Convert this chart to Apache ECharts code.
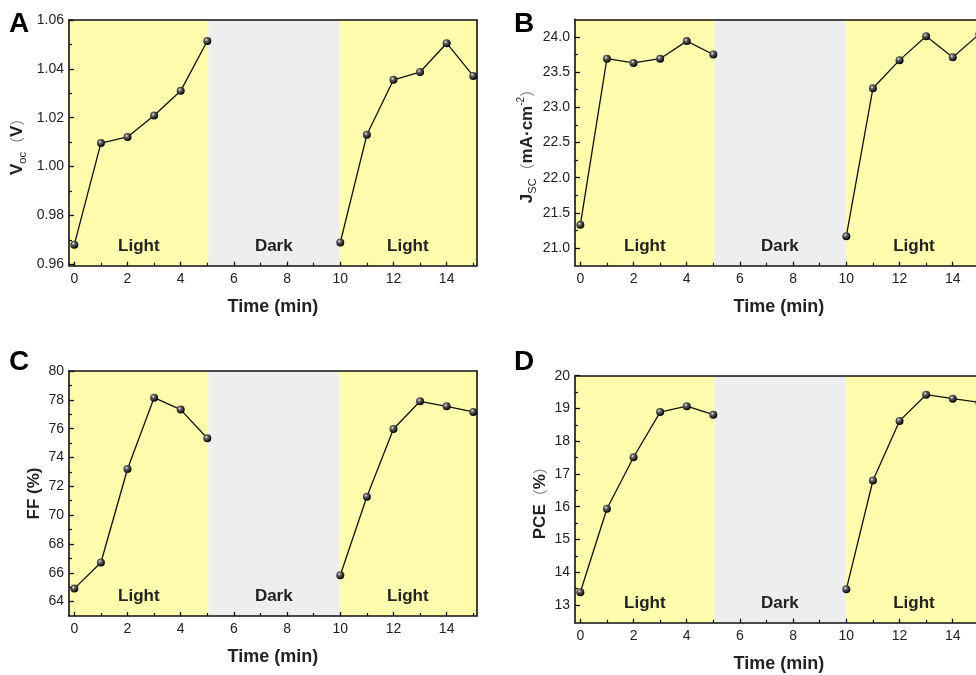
<!DOCTYPE html>
<html><head><meta charset="utf-8">
<script src="https://cdn.jsdelivr.net/npm/echarts@6/dist/echarts.min.js"></script>
<style>html,body{margin:0;padding:0;background:#fff}#c{width:976px;height:675px}</style>
</head><body><div id="c"></div>
<script>
// ---- data ----
const time = [0, 1, 2, 3, 4, 5, 10, 11, 12, 13, 14, 15];
const voc = [0.968, 1.0096, 1.0121, 1.0209, 1.031, 1.0514, 0.9689, 1.013, 1.0355, 1.0387, 1.0505, 1.0371];
const jsc = [21.33, 23.69, 23.63, 23.69, 23.94, 23.75, 21.17, 23.27, 23.67, 24.01, 23.71, 24.04];
const ff = [64.90, 66.71, 73.20, 78.15, 77.32, 75.33, 65.83, 71.28, 75.98, 77.90, 77.55, 77.16];
const pce = [13.39, 15.94, 17.51, 18.89, 19.07, 18.81, 13.48, 16.80, 18.62, 19.42, 19.30, 19.19];
const xTickLabels = [0, 2, 4, 6, 8, 10, 12, 14];
const xMinorTicks = [1, 3, 5, 7, 9, 11, 13, 15];
const vocTicks = [0.96, 0.98, 1.00, 1.02, 1.04, 1.06];
const vocMinor = [0.97, 0.99, 1.01, 1.03, 1.05];
const jscTicks = [21.0, 21.5, 22.0, 22.5, 23.0, 23.5, 24.0];
const jscMinor = [21.25, 21.75, 22.25, 22.75, 23.25, 23.75];
const ffTicks = [64, 66, 68, 70, 72, 74, 76, 78, 80];
const ffMinor = [65, 67, 69, 71, 73, 75, 77, 79];
const pceTicks = [13, 14, 15, 16, 17, 18, 19, 20];
const pceMinor = [13.5, 14.5, 15.5, 16.5, 17.5, 18.5, 19.5];
const periods = [
  {label: 'Light', from: -0.2, to: 5.05, kind: 'light'},
  {label: 'Dark', from: 5.05, to: 9.95, kind: 'dark'},
  {label: 'Light', from: 9.95, to: 15.13, kind: 'light'}
];
const xLabelName = 'Time (min)';

// ---- styles ----
const FONT = 'Liberation Sans, Arial, sans-serif';
const YELLOW = '#FFFCAE';
const GRAY = '#EEEEEE';
const INK = '#111';
const XMIN = -0.2, XMAX = 15.13;

const panels = [
  {grid: {left: 69, top: 20, width: 407.7, height: 245.7}, y: voc, ymin: 0.9594, ymax: 1.06, ticks: vocTicks, minor: vocMinor, fmt: v => v.toFixed(2),
   name: '{b|V}{s|oc}{p|（}{b|V}{p|）}', nameGap: 41},
  {grid: {left: 575, top: 19.3, width: 407.8, height: 246.4}, y: jsc, ymin: 20.75, ymax: 24.25, ticks: jscTicks, minor: jscMinor, fmt: v => v.toFixed(1),
   name: '{b|J}{s|SC}{p|（}{b|mA·cm}{u|-2}{p|）}', nameGap: 37},
  {grid: {left: 69, top: 371, width: 407.7, height: 245}, y: ff, ymin: 63, ymax: 80, ticks: ffTicks, minor: ffMinor, fmt: v => String(v),
   name: '{b|FF (%)}', nameGap: 24},
  {grid: {left: 575, top: 375.7, width: 407.8, height: 247}, y: pce, ymin: 12.46, ymax: 20, ticks: pceTicks, minor: pceMinor, fmt: v => String(v),
   name: '{b|PCE}{p|（}{b|%}{p|）}', nameGap: 24}
];

const richName = {
  b: {fontFamily: FONT, fontSize: 17, fontWeight: 'bold', color: '#222', lineHeight: 22},
  s: {fontFamily: FONT, fontSize: 11, color: '#222', verticalAlign: 'bottom', lineHeight: 12},
  u: {fontFamily: FONT, fontSize: 10, color: '#222', verticalAlign: 'top', lineHeight: 10},
  p: {fontFamily: 'Noto Sans CJK SC', fontSize: 15, color: '#777', lineHeight: 22}
};

const sphere = {
  type: 'radial', x: 0.38, y: 0.35, r: 0.65,
  colorStops: [{offset: 0, color: '#f4f4f4'}, {offset: 0.3, color: '#666'}, {offset: 1, color: '#000'}]
};

const grids = [], xAxes = [], yAxes = [], series = [];
panels.forEach((p, gi) => {
  grids.push(Object.assign({outerBoundsMode: 'none', containLabel: false}, p.grid));
  const xi = xAxes.length, yi = yAxes.length;
  // main x
  xAxes.push({gridIndex: gi, type: 'value', position: 'bottom', min: XMIN, max: XMAX, z: 5,
    axisLine: {show: true, onZero: false, lineStyle: {color: INK, width: 1.6}},
    axisTick: {show: true, inside: true, length: 4, customValues: xTickLabels, lineStyle: {color: INK, width: 1.3}},
    axisLabel: {show: true, customValues: xTickLabels, color: '#222', fontSize: 14, fontFamily: FONT, margin: 6},
    splitLine: {show: false},
    name: xLabelName, nameLocation: 'middle', nameGap: 32,
    nameTextStyle: {fontFamily: FONT, fontSize: 18, fontWeight: 'bold', color: '#222'}});
  // minor x
  xAxes.push({gridIndex: gi, type: 'value', position: 'bottom', min: XMIN, max: XMAX, z: 5,
    axisLine: {show: false, onZero: false}, axisLabel: {show: false}, splitLine: {show: false},
    axisTick: {show: true, inside: true, length: 3, customValues: xMinorTicks, lineStyle: {color: INK, width: 1.2}}});
  // top frame
  xAxes.push({gridIndex: gi, type: 'value', position: 'top', min: XMIN, max: XMAX, z: 5,
    axisLine: {show: true, onZero: false, lineStyle: {color: INK, width: 1.6}},
    axisTick: {show: false}, axisLabel: {show: false}, splitLine: {show: false}});
  // main y
  yAxes.push({gridIndex: gi, type: 'value', position: 'left', min: p.ymin, max: p.ymax, z: 5,
    axisLine: {show: true, onZero: false, lineStyle: {color: INK, width: 1.6}},
    axisTick: {show: true, inside: true, length: 5, customValues: p.ticks, lineStyle: {color: INK, width: 1.3}},
    axisLabel: {show: true, customValues: p.ticks, formatter: p.fmt, color: '#222', fontSize: 14, fontFamily: FONT, margin: 5},
    splitLine: {show: false},
    name: p.name, nameLocation: 'middle', nameRotate: 90, nameGap: p.nameGap,
    nameTextStyle: {rich: richName}});
  // minor y
  yAxes.push({gridIndex: gi, type: 'value', position: 'left', min: p.ymin, max: p.ymax, z: 5,
    axisLine: {show: false, onZero: false}, axisLabel: {show: false}, splitLine: {show: false},
    axisTick: {show: true, inside: true, length: 3, customValues: p.minor, lineStyle: {color: INK, width: 1.2}}});
  // right frame
  yAxes.push({gridIndex: gi, type: 'value', position: 'right', min: p.ymin, max: p.ymax, z: 5,
    axisLine: {show: true, onZero: false, lineStyle: {color: INK, width: 1.6}},
    axisTick: {show: false}, axisLabel: {show: false}, splitLine: {show: false}});

  const seg1 = [], seg2 = [];
  time.forEach((t, i) => (t <= 5 ? seg1 : seg2).push([t, p.y[i]]));
  [seg1, seg2].forEach((seg, si) => {
    const s = {
      type: 'line', xAxisIndex: xi, yAxisIndex: yi, data: seg, z: 3,
      symbol: 'circle', symbolSize: 8, showAllSymbol: true,
      lineStyle: {color: '#111', width: 1.3},
      itemStyle: {color: sphere, borderWidth: 0},
      emphasis: {disabled: true}, animation: false
    };
    if (si === 0) {
      s.markArea = {
        silent: true, z: 1,
        data: periods.map(pr => [
          {xAxis: pr.from, itemStyle: {color: pr.kind === 'light' ? YELLOW : GRAY},
           label: {show: true, position: 'insideBottom', distance: 11, formatter: pr.label,
                   color: '#222', fontSize: 17, fontWeight: 'bold', fontFamily: FONT}},
          {xAxis: pr.to}
        ])
      };
    }
    series.push(s);
  });
});

const letters = [
  {t: 'A', left: 9, top: 10}, {t: 'B', left: 514, top: 10},
  {t: 'C', left: 9, top: 348}, {t: 'D', left: 514, top: 348}
];

const chart = echarts.init(document.getElementById('c'), null, {renderer: 'canvas'});
chart.setOption({
  animation: false,
  backgroundColor: '#fff',
  grid: grids, xAxis: xAxes, yAxis: yAxes, series: series,
  graphic: letters.map(l => ({type: 'text', left: l.left, top: l.top,
    style: {text: l.t, font: 'bold 28px ' + FONT, fill: '#000'}}))
});
</script></body></html>
